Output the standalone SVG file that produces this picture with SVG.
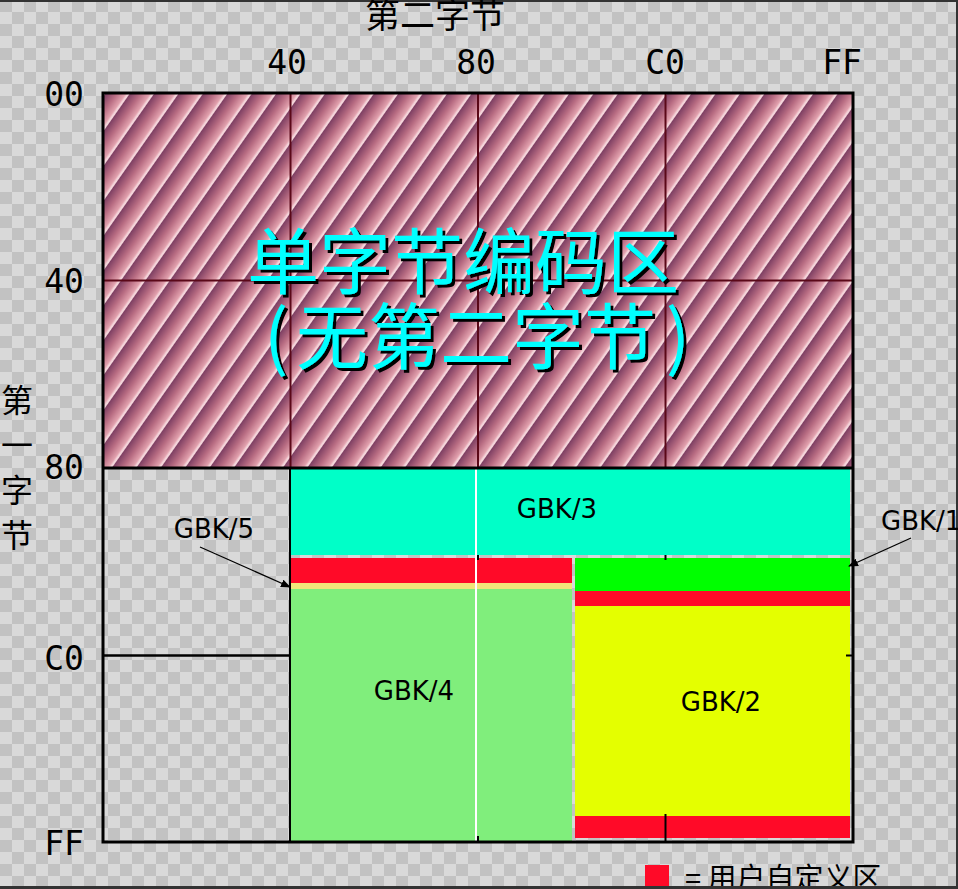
<svg xmlns="http://www.w3.org/2000/svg" width="958" height="889" viewBox="0 0 958 889">
<defs>
<pattern id="checker" width="24" height="24" patternUnits="userSpaceOnUse">
<rect width="24" height="24" fill="#d9d9d9"/>
<rect width="12" height="12" fill="#c2c2c2"/>
<rect x="12" y="12" width="12" height="12" fill="#c2c2c2"/>
</pattern>
<linearGradient id="stripeGrad" x1="0" y1="0" x2="1" y2="0">
<stop offset="0" stop-color="#7c3e62"/>
<stop offset="0.45" stop-color="#b86c82"/>
<stop offset="0.86" stop-color="#e4a4b0"/>
<stop offset="0.9" stop-color="#f4d4da"/>
<stop offset="1" stop-color="#f4d4da"/>
</linearGradient>
<pattern id="hatch" width="20" height="20" patternUnits="userSpaceOnUse" patternTransform="rotate(35)">
<rect width="20" height="20" fill="url(#stripeGrad)"/>
</pattern>
<filter id="shadow" x="-5%" y="-5%" width="110%" height="120%">
<feDropShadow dx="3" dy="3" stdDeviation="0" flood-color="#000" flood-opacity="1"/>
</filter>
<marker id="arrow" markerWidth="10" markerHeight="8" refX="9" refY="4" orient="auto" markerUnits="userSpaceOnUse">
<path d="M0,0 L10,4 L0,8 Z" fill="#000"/>
</marker>
<style>
.axis{font-family:"DejaVu Sans Mono","Liberation Mono",monospace;font-size:33px;fill:#000}
.cjk{font-family:"Noto Sans CJK SC","Noto Sans",sans-serif;fill:#000}
.lbl{font-family:"DejaVu Sans","Noto Sans",sans-serif;font-size:26px;fill:#000}
.big{font-family:"Noto Sans CJK SC",sans-serif;font-size:72px;fill:#00ffff;filter:url(#shadow)}
.border{stroke:#000;stroke-width:3;fill:none}
.grid{stroke:#5a0818;stroke-width:2;fill:none}
.conn{stroke:#000;stroke-width:1.3;fill:none;marker-end:url(#arrow)}
</style>
</defs>
<rect width="958" height="889" fill="url(#checker)"/>
<rect x="0" y="0" width="958" height="2" fill="#333"/>
<rect x="956" y="0" width="2" height="889" fill="#333"/>

<g id="axis-top">
<text class="cjk" x="435" y="28" font-size="35" text-anchor="middle">第二字节</text>
<text class="axis" x="287" y="74" text-anchor="middle">40</text>
<text class="axis" x="476" y="74" text-anchor="middle">80</text>
<text class="axis" x="665" y="74" text-anchor="middle">C0</text>
<text class="axis" x="842" y="74" text-anchor="middle">FF</text>
</g>
<g id="axis-left">
<text class="cjk" x="17" y="412" font-size="32" text-anchor="middle">第</text>
<text class="cjk" x="17" y="457" font-size="32" text-anchor="middle">一</text>
<text class="cjk" x="17" y="502" font-size="32" text-anchor="middle">字</text>
<text class="cjk" x="17" y="547" font-size="32" text-anchor="middle">节</text>
<text class="axis" x="84" y="106" text-anchor="end">00</text>
<text class="axis" x="84" y="293" text-anchor="end">40</text>
<text class="axis" x="84" y="479" text-anchor="end">80</text>
<text class="axis" x="84" y="670" text-anchor="end">C0</text>
<text class="axis" x="84" y="855" text-anchor="end">FF</text>
</g>

<g id="single-byte">
<rect x="103" y="93" width="750" height="375" fill="url(#hatch)"/>
<line class="grid" x1="290.5" y1="93" x2="290.5" y2="468"/>
<line class="grid" x1="478" y1="93" x2="478" y2="468"/>
<line class="grid" x1="665.5" y1="93" x2="665.5" y2="468"/>
<line class="grid" x1="103" y1="280.5" x2="853" y2="280.5"/>
<text class="big" x="463" y="288" text-anchor="middle">单字节编码区</text>
<text class="big" x="264" y="363">(</text>
<text class="big" x="476" y="363" text-anchor="middle">无第二字节</text>
<text class="big" x="690" y="363" text-anchor="end">)</text>
</g>

<g id="gbk3">
<rect x="291" y="469" width="559" height="86" fill="#00ffc8"/>
<text class="lbl" x="557" y="518" text-anchor="middle">GBK/3</text>
</g>
<g id="gbk5">
<rect x="291" y="558" width="281" height="25" fill="#ff0a28"/>
<rect x="291" y="583" width="281" height="6" fill="#f2e67a"/>
<text class="lbl" x="214" y="538" text-anchor="middle">GBK/5</text>
</g>
<g id="gbk4">
<rect x="291" y="589" width="281" height="253" fill="#80ee7c"/>
<text class="lbl" x="414" y="700" text-anchor="middle">GBK/4</text>
</g>
<g id="gbk1">
<rect x="575" y="558" width="275" height="33" fill="#00ff00"/>
<text class="lbl" x="881" y="530">GBK/1</text>
</g>
<g id="gbk2">
<rect x="575" y="591" width="275" height="15" fill="#ff0a28"/>
<rect x="575" y="606" width="275" height="210" fill="#e4ff00"/>
<rect x="575" y="816" width="275" height="22" fill="#ff0a28"/>
<text class="lbl" x="721" y="711" text-anchor="middle">GBK/2</text>
</g>
<line x1="476" y1="469" x2="476" y2="842" stroke="#fff" stroke-width="2"/>

<g id="frame">
<line class="border" x1="103" y1="468" x2="853" y2="468"/>
<rect class="border" x="103" y="93" width="750" height="749"/>
<line x1="103" y1="655.5" x2="290" y2="655.5" stroke="#000" stroke-width="2.5"/>
<line x1="290" y1="468" x2="290" y2="842" stroke="#000" stroke-width="2"/>
<line x1="478" y1="555" x2="478" y2="560" stroke="#000" stroke-width="2"/>
<line x1="665.5" y1="555" x2="665.5" y2="560" stroke="#000" stroke-width="2"/>
<line x1="665.5" y1="814" x2="665.5" y2="842" stroke="#000" stroke-width="2"/>
<line x1="478" y1="836" x2="478" y2="842" stroke="#000" stroke-width="2"/>
<line x1="846" y1="655.5" x2="853" y2="655.5" stroke="#000" stroke-width="2"/>
</g>

<g id="connectors">
<line class="conn" x1="200" y1="547" x2="290" y2="587"/>
<line class="conn" x1="911" y1="538" x2="849" y2="566"/>
</g>

<g id="legend">
<rect x="645" y="865" width="24" height="22" fill="#ff0a28"/>
<text class="cjk" x="685" y="889" font-size="29" xml:space="preserve">= 用户自定义区</text>
</g>
<rect x="0" y="886" width="958" height="3" fill="#333"/>
</svg>
